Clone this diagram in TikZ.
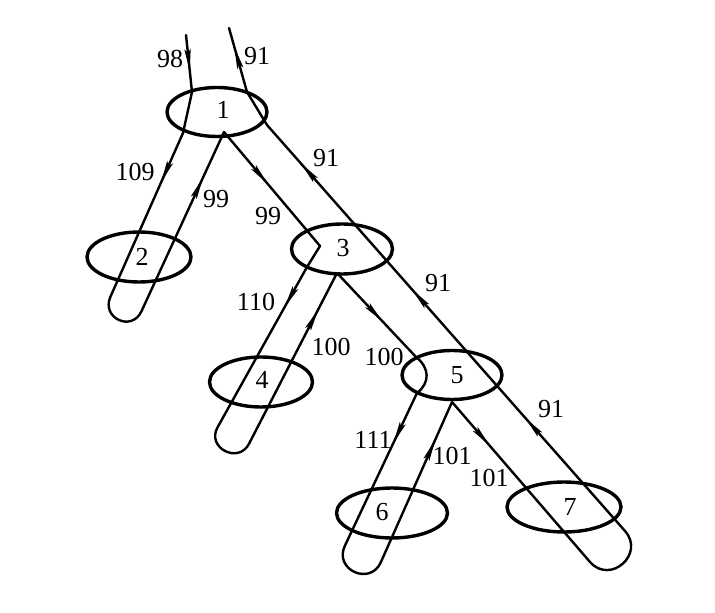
\documentclass[tikz,border=0pt]{standalone}
\usepackage{fontspec}
\setmainfont{Liberation Serif}
\usetikzlibrary{shapes.geometric,calc}
\newcommand\tourtip[3]{%
  \coordinate (tipT) at ($(#1)!#3!(#2)$);
  \coordinate (tipB) at ($(tipT)!11pt!(#1)$);
  \coordinate (tipN) at ($(tipT)!9pt!(#1)$);
  \fill ($(tipB)!1.6pt!90:(tipT)$) -- (tipT) -- ($(tipB)!1.6pt!-90:(tipT)$) -- (tipN) -- cycle;}
\begin{document}
\begin{tikzpicture}[x=0.5pt,y=-0.5pt,
  vtx/.style={draw,ellipse,line width=1.7pt,inner sep=0pt},
  tour/.style={line width=1.2pt,line join=round,line cap=round},
  num/.style={font=\fontsize{13}{15}\selectfont,inner sep=0pt}
]
\useasboundingbox (0,0) rectangle (715,613);
% vertices
\node[vtx,minimum width=50pt,minimum height=24.5pt] (n1) at (217,112) {};
\node[vtx,minimum width=52pt,minimum height=25pt] (n2) at (139,257) {};
\node[vtx,minimum width=50.5pt,minimum height=25pt] (n3) at (342,249) {};
\node[vtx,minimum width=51.5pt,minimum height=25pt] (n4) at (261,382) {};
\node[vtx,minimum width=50pt,minimum height=24.5pt] (n5) at (452,375) {};
\node[vtx,minimum width=55.5pt,minimum height=25pt] (n6) at (392,513) {};
\node[vtx,minimum width=57pt,minimum height=25pt] (n7) at (564,507) {};
\node[num] (t1) at (223,110) {1};
\node[num] (t2) at (142,257) {2};
\node[num] (t3) at (343,248) {3};
\node[num] (t4) at (262,380) {4};
\node[num] (t5) at (457,375) {5};
\node[num] (t6) at (382,512) {6};
\node[num] (t7) at (570,507) {7};
% tour points
\coordinate (tl) at (186,35);
\coordinate (tl1) at (192,92);
\coordinate (a1) at (183,133);
\coordinate (l2) at (110.4,296.8);
\coordinate (r2) at (141.5,311.2);
\coordinate (p1) at (224,132);
\coordinate (c3) at (320,246);
\coordinate (a3) at (307,267);
\coordinate (l4) at (217.5,427.4);
\coordinate (r4) at (249,443.8);
\coordinate (p3) at (337,273);
\coordinate (c5t) at (416,357);
\coordinate (a5) at (417,393);
\coordinate (l6) at (344.8,545.9);
\coordinate (r6) at (380.8,562.3);
\coordinate (p5) at (452,402);
\coordinate (i7) at (590,562);
\coordinate (o7) at (625,531);
\coordinate (b1) at (267,125);
\coordinate (tr1) at (247,92);
\coordinate (tr) at (229,28);
% the tour
\draw[tour] (tl) -- (tl1) -- (a1) -- (l2)
  .. controls (101,318.1) and (131.8,332.4) .. (r2)
  -- (p1) -- (c3) -- (a3) -- (l4)
  .. controls (206.2,447.7) and (238.3,464.5) .. (r4)
  -- (p3) -- (c5t) .. controls (430,368) and (430,383) .. (a5) -- (l6)
  .. controls (333.6,569.7) and (370.1,586.3) .. (r6)
  -- (p5) -- (i7)
  .. controls (610.3,585) and (645.3,554) .. (o7)
  -- (b1) -- (tr1) -- (tr);
% arrowheads
\tourtip{tl}{tl1}{0.63}
\tourtip{a1}{l2}{0.30}
\tourtip{r2}{p1}{0.745}
\tourtip{p1}{c3}{0.455}
\tourtip{a3}{l4}{0.248}
\tourtip{r4}{p3}{0.785}
\tourtip{p3}{c5t}{0.575}
\tourtip{a5}{l6}{0.327}
\tourtip{r6}{p5}{0.765}
\tourtip{p5}{i7}{0.272}
\tourtip{o7}{b1}{0.278}
\tourtip{o7}{b1}{0.594}
\tourtip{o7}{b1}{0.905}
\tourtip{tr1}{tr}{0.70}
% labels
\node[num] (w98) at (170,59) {98};
\node[num] (w91t) at (257,56) {91};
\node[num] (w109) at (135,172) {109};
\node[num] (w99a) at (216,199) {99};
\node[num] (w99b) at (268,216) {99};
\node[num] (w91a) at (326,158) {91};
\node[num] (w110) at (256,302) {110};
\node[num] (w91b) at (438,283) {91};
\node[num] (w100a) at (331,347) {100};
\node[num] (w100b) at (384,357) {100};
\node[num] (w91c) at (551,409) {91};
\node[num] (w111) at (373,440) {111};
\node[num] (w101a) at (452,456) {101};
\node[num] (w101b) at (489,478) {101};
\end{tikzpicture}
\end{document}
